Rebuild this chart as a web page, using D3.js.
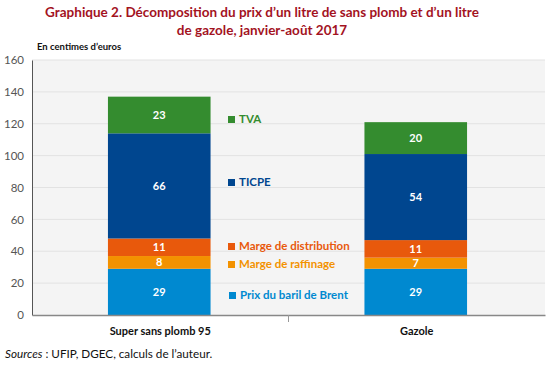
<!DOCTYPE html>
<html><head><meta charset="utf-8">
<script src="https://cdn.jsdelivr.net/npm/d3@7"></script>
<style>body{margin:0;background:#fff}svg{display:block}text{font-family:Lato,"Open Sans",sans-serif}</style>
</head><body><svg id="c" width="550" height="367"></svg>
<script>
const categories = ["Super sans plomb 95", "Gazole"];
const seriesNames = ["Prix du baril de Brent", "Marge de raffinage", "Marge de distribution", "TICPE", "TVA"];
const brent = [29, 29];
const raffinage = [8, 7];
const distribution = [11, 11];
const ticpe = [66, 54];
const tva = [23, 20];
const yTicks = [0, 20, 40, 60, 80, 100, 120, 140, 160];
const colors = ["#0089d0", "#f39200", "#e8590c", "#00468f", "#348c2f"];

const series = [brent, raffinage, distribution, ticpe, tva];
const rows = categories.map((c, i) => {
  const r = {cat: c};
  seriesNames.forEach((s, j) => r[s] = series[j][i]);
  return r;
});
const stack = d3.stack().keys(seriesNames)(rows);

const svg = d3.select("#c");
const L = 32, R = 545, T = 60, B = 315;
const x = d3.scaleBand().domain(categories).range([L, R]).padding(0);
const y = d3.scaleLinear().domain([0, 160]).range([B, T]);
const bw = x.bandwidth() * 0.4;

svg.append("rect").attr("x", L).attr("y", T).attr("width", R - L).attr("height", B - T).attr("fill", "#f4f4f4");

svg.append("g").selectAll("line").data(yTicks.slice(1)).join("line")
  .attr("x1", L).attr("x2", R).attr("y1", d => y(d)).attr("y2", d => y(d))
  .attr("stroke", "#e2e2e2").attr("stroke-width", 1);

const yAxis = svg.append("g").attr("transform", `translate(${L},0)`)
  .call(d3.axisLeft(y).tickValues(yTicks).tickSize(0).tickPadding(8));
yAxis.select(".domain").attr("stroke", "#555").attr("stroke-width", 1);
yAxis.selectAll("text").attr("font-size", 11.5).attr("fill", "#555").attr("font-family", "Lato, sans-serif");

svg.append("g").selectAll("g").data(stack).join("g").attr("fill", (d, i) => colors[i])
  .selectAll("rect").data(d => d).join("rect")
  .attr("x", d => x(d.data.cat) + x.bandwidth() / 2 - bw / 2 - 1)
  .attr("width", bw)
  .attr("y", d => y(d[1]))
  .attr("height", d => y(d[0]) - y(d[1]));

svg.append("g").selectAll("g").data(stack).join("g")
  .selectAll("text").data(d => d).join("text")
  .attr("x", d => x(d.data.cat) + x.bandwidth() / 2 - 1)
  .attr("y", d => (y(d[0]) + y(d[1])) / 2 + 4)
  .attr("text-anchor", "middle").attr("fill", "#fff").attr("font-size", 11).attr("font-weight", "bold")
  .text(d => d[1] - d[0]);

const xAxis = svg.append("g").attr("transform", `translate(0,${B})`)
  .call(d3.axisBottom(x).tickSize(0).tickPadding(12));
xAxis.select(".domain").attr("stroke", "#888").attr("stroke-width", 1.5);
xAxis.selectAll("text").attr("font-size", 11).attr("fill", "#111").attr("font-weight", "bold").attr("font-family", "Lato, sans-serif");
svg.append("line").attr("x1", x.step() + L).attr("x2", x.step() + L).attr("y1", B).attr("y2", B + 7).attr("stroke", "#999");

// legend, next to the first bar
const legendY = [299, 268, 250, 186, 123];
const lg = svg.append("g").selectAll("g").data(seriesNames).join("g")
  .attr("transform", (d, i) => `translate(${i === 0 ? 229 : 228},${legendY[i]})`);
lg.append("rect").attr("x", 0).attr("y", -7).attr("width", 7).attr("height", 7).attr("fill", (d, i) => colors[i]);
lg.append("text").attr("x", 11).attr("y", 0).attr("font-size", 11.5).attr("font-weight", "bold")
  .attr("fill", (d, i) => colors[i]).text(d => d);

// titles
const title = svg.append("text").attr("text-anchor", "middle").attr("fill", "#a3131f").attr("font-size", 13.5).attr("font-weight", "bold");
title.append("tspan").attr("x", 262).attr("y", 17).text("Graphique 2. Décomposition du prix d’un litre de sans plomb et d’un litre");
title.append("tspan").attr("x", 262).attr("y", 35).text("de gazole, janvier-août 2017");

svg.append("text").attr("x", 37).attr("y", 50).attr("font-size", 9.5).attr("font-weight", "bold").attr("fill", "#111").text("En centimes d’euros");

const src = svg.append("text").attr("x", 5).attr("y", 358).attr("font-size", 11.7).attr("fill", "#111");
src.append("tspan").attr("font-style", "italic").text("Sources");
src.append("tspan").text(" : UFIP, DGEC, calculs de l’auteur.");
</script></body></html>
